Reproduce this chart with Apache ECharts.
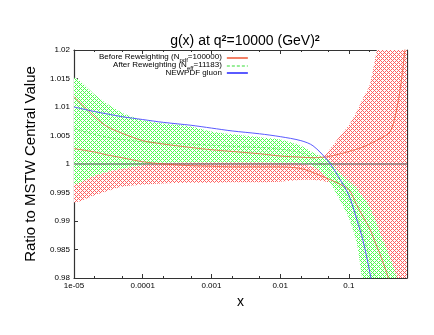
<!DOCTYPE html>
<html>
<head>
<meta charset="utf-8">
<script src="https://cdn.jsdelivr.net/npm/echarts@6/dist/echarts.min.js"></script>
<style>
html,body{margin:0;padding:0;background:#fff;}
#chart{width:434px;height:335px;}
</style>
</head>
<body>
<div id="chart"></div>
<script>
// x sample points (log axis)
var xs = [1e-5, 2e-5, 3e-5, 5e-5, 1e-4, 2e-4, 5e-4, 1e-3, 2e-3, 5e-3, 0.01, 0.02, 0.03, 0.05, 0.07, 0.1, 0.13, 0.16, 0.2, 0.25, 0.3, 0.4, 0.5, 0.6, 0.7];

// before reweighting band (red)
var redLow = [0.9933, 0.9945, 0.9952, 0.9960, 0.9964, 0.9966, 0.9967, 0.9967, 0.9968, 0.9968, 0.9969, 0.9972, 0.9972, 0.9968, 0.9955, 0.9935, 0.9910, 0.9885, 0.9860, 0.9835, 0.9815, 0.9812, 0.9795, 0.9770, 0.9740];
var redHigh = [0.9967, 0.9980, 0.9986, 0.9992, 0.9998, 1.0002, 1.0003, 1.0003, 1.0003, 1.0003, 1.0002, 1.0001, 0.9997, 1.0022, 1.0045, 1.0068, 1.0092, 1.0115, 1.0138, 1.0195, 1.0250, 1.0350, 1.0450, 1.0550, 1.0650];

// after reweighting band (green)
var greenLow = [0.9967, 0.9980, 0.9986, 0.9992, 0.9998, 1.0002, 1.0003, 1.0003, 1.0003, 1.0003, 1.0002, 1.0001, 0.9997, 0.9972, 0.9942, 0.9905, 0.9862, 0.9790, 0.9740, 0.9680, 0.9630, 0.9550, 0.9480, 0.9420, 0.9370];
var greenHigh = [1.0150, 1.0122, 1.0106, 1.0090, 1.0077, 1.0071, 1.0066, 1.0057, 1.0052, 1.0047, 1.0043, 1.0032, 1.0020, 1.0007, 0.9988, 0.9970, 0.9957, 0.9942, 0.9925, 0.9897, 0.9872, 0.9835, 0.9800, 0.9760, 0.9720];
var greenMid = [1.0062, 1.0052, 1.0047, 1.0043, 1.0039, 1.0037, 1.0035, 1.0033, 1.0031, 1.0029, 1.0026, 1.0020, 1.0010, 0.9990, 0.9965, 0.9938, 0.9910, 0.9875, 0.9838, 0.9790, 0.9750, 0.9680, 0.9620, 0.9560, 0.9500];

// thin red curves
var redCurveA = [1.0118, 1.0083, 1.0066, 1.0054, 1.0041, 1.0035, 1.0029, 1.0025, 1.0022, 1.0018, 1.0014, 1.0012, 1.0011, 1.0013, 1.0017, 1.0022, 1.0026, 1.0030, 1.0035, 1.0041, 1.0046, 1.0057, 1.0098, 1.0160, 1.0240];
var redCurveB = [1.0027, 1.0021, 1.0016, 1.0011, 1.0004, 1.0000, 0.9997, 0.9996, 0.9995, 0.9995, 0.9995, 0.9992, 0.9985, 0.9974, 0.9966, 0.9955, 0.9928, 0.9908, 0.9887, 0.9858, 0.9834, 0.9790, 0.9750, 0.9710, 0.9670];

// NEWPDF gluon (blue)
var newpdf = [1.0100, 1.0092, 1.0088, 1.0083, 1.0078, 1.0073, 1.0068, 1.0063, 1.0058, 1.0053, 1.0048, 1.0041, 1.0032, 1.0005, 0.9978, 0.9945, 0.9903, 0.9866, 0.9812, 0.9745, 0.9680, 0.9550, 0.9400, 0.9250, 0.9100];

var refX = [1e-5, 0.7];
var refY = [1, 1];

var minorTicks = [2e-5, 5e-5, 2e-4, 5e-4, 2e-3, 5e-3, 0.02, 0.05, 0.2, 0.5];

var nameBefore = 'before';
var nameAfter = 'after';
var nameNew = 'newpdf';

function pairs(a, b) {
	var out = [];
	for (var i = 0; i < a.length; i++) out.push([a[i], b[i]]);
	return out;
}

//交叉网格填充
function hatch(color) {
	var c = document.createElement('canvas');
	c.width = 4; c.height = 4;
	var ctx = c.getContext('2d');
	ctx.fillStyle = '#ffffff';
	ctx.fillRect(0, 0, 4, 4);
	ctx.fillStyle = color;
	for (var x = 0; x < 4; x++) {
		for (var y = 0; y < 4; y++) {
			if ((x + y) % 4 == 0 || (x - y + 4) % 4 == 0) ctx.fillRect(x, y, 1, 1);
		}
	}
	return {image: c, repeat: 'repeat'};
}

// 用多边形画误差带
function bandRender(lo, hi, fill) {
	return function(params, api) {
		var pts = [];
		for (var i = 0; i < xs.length; i++) pts.push(api.coord([xs[i], hi[i]]));
		for (var j = xs.length - 1; j >= 0; j--) pts.push(api.coord([xs[j], lo[j]]));
		var cs = params.coordSys;
		return {
			type: 'polygon',
			shape: {points: pts, smooth: 0.25},
			style: {fill: fill, stroke: null},
			clipPath: {type: 'rect', shape: {x: cs.x, y: cs.y, width: cs.width, height: cs.height}}
		};
	};
}

var font = 'Liberation Sans';
var axisColor = '#333';

function yFmt(v) { return String(parseFloat(v.toFixed(3))); }
function xFmt(v) {
	var l = Math.log(v) / Math.LN10;
	var e = Math.round(l);
	if (Math.abs(l - e) > 1e-6) return '';
	if (e == -5) return '1e-05';
	return String(parseFloat(Math.pow(10, e).toFixed(6)));
}

var chart = echarts.init(document.getElementById('chart'), null, {renderer: 'canvas'});

var option = {
	animation: false,
	backgroundColor: '#fff',
	title: {
		text: '{a|g(x) at q}{s|2}{a|=10000 (GeV)}{s|2}',
		left: 240,
		top: 29,
		textAlign: 'center',
		textStyle: {
			rich: {
				a: {fontFamily: font, fontSize: 14, color: '#000', fontWeight: 'normal', verticalAlign: 'bottom'},
				s: {fontFamily: font, fontSize: 9, color: '#000', verticalAlign: 'top'}
			}
		}
	},
	legend: {
		orient: 'vertical',
		align: 'right',
		left: 94,
		top: 48,
		itemWidth: 21,
		itemHeight: 6,
		itemGap: -2,
		itemStyle: {opacity: 0},
		data: [nameBefore, nameAfter, nameNew],
		formatter: function(n) {
			if (n == nameBefore) return '{a|Before Reweighting (N}{b|pdf}{a|=100000)}';
			if (n == nameAfter) return '{a|After Reweighting (N}{b|eff}{a|=11183)}';
			return '{a|NEWPDF gluon}';
		},
		textStyle: {
			rich: {
				a: {fontFamily: font, fontSize: 8, color: '#000', verticalAlign: 'top', lineHeight: 8},
				b: {fontFamily: font, fontSize: 6, color: '#000', verticalAlign: 'bottom', lineHeight: 10}
			}
		}
	},
	grid: {left: 74, right: 27, top: 50, bottom: 57, containLabel: false},
	xAxis: [{
		type: 'log', logBase: 10, min: 1e-5, max: 0.7, position: 'bottom',
		name: 'x', nameLocation: 'middle', nameGap: 16,
		nameTextStyle: {fontFamily: font, fontSize: 14, color: '#000'},
		axisLine: {show: true, lineStyle: {color: axisColor, width: 1.2}},
		axisTick: {inside: true, length: 4, lineStyle: {color: axisColor}},
		axisLabel: {fontFamily: font, fontSize: 8, color: '#000', margin: 4, formatter: xFmt, showMaxLabel: false},
		splitLine: {show: false}
	}, {
		type: 'log', logBase: 10, min: 1e-5, max: 0.7, position: 'top',
		axisLine: {show: true, lineStyle: {color: axisColor, width: 1.2}},
		axisTick: {inside: true, length: 4, lineStyle: {color: axisColor}},
		axisLabel: {show: false},
		splitLine: {show: false}
	}, {
		type: 'log', logBase: 10, min: 1e-5, max: 0.7, position: 'bottom',
		axisLine: {show: false},
		axisTick: {inside: true, length: 2, customValues: minorTicks, lineStyle: {color: axisColor}},
		axisLabel: {show: false},
		splitLine: {show: false}
	}, {
		type: 'log', logBase: 10, min: 1e-5, max: 0.7, position: 'top',
		axisLine: {show: false},
		axisTick: {inside: true, length: 2, customValues: minorTicks, lineStyle: {color: axisColor}},
		axisLabel: {show: false},
		splitLine: {show: false}
	}],
	yAxis: [{
		type: 'value', min: 0.98, max: 1.02, interval: 0.005, position: 'left',
		name: 'Ratio to MSTW Central Value', nameLocation: 'middle', nameGap: 36, nameRotate: 90,
		nameTextStyle: {fontFamily: font, fontSize: 15, color: '#000'},
		axisLine: {show: true, lineStyle: {color: axisColor, width: 1.2}},
		axisTick: {show: true, inside: true, length: 4, lineStyle: {color: axisColor}},
		axisLabel: {fontFamily: font, fontSize: 8, color: '#000', margin: 4, formatter: yFmt},
		splitLine: {show: false}
	}, {
		type: 'value', min: 0.98, max: 1.02, interval: 0.005, position: 'right',
		axisLine: {show: true, lineStyle: {color: axisColor, width: 1.2}},
		axisTick: {show: true, inside: true, length: 4, lineStyle: {color: axisColor}},
		axisLabel: {show: false},
		splitLine: {show: false}
	}],
	series: [
		{
			name: 'redBand', type: 'custom', coordinateSystem: 'cartesian2d',
			data: [[xs[0], redHigh[0]]], z: 1, silent: true,
			renderItem: bandRender(redLow, redHigh, hatch('#ff6060'))
		},
		{
			name: 'greenBand', type: 'custom', coordinateSystem: 'cartesian2d',
			data: [[xs[0], greenHigh[0]]], z: 2, silent: true,
			renderItem: bandRender(greenLow, greenHigh, hatch('#50ff50'))
		},
		{
			name: nameAfter, type: 'line', data: pairs(xs, greenMid),
			symbol: 'none', smooth: 0.3, z: 3,
			lineStyle: {color: '#33dd33', width: 1, type: [3, 2], opacity: 0.5}
		},
		{
			name: 'ref', type: 'line', data: pairs(refX, refY),
			symbol: 'none', z: 4, lineStyle: {color: '#555', width: 1}
		},
		{
			name: nameBefore, type: 'line', data: pairs(xs, redCurveA),
			symbol: 'none', smooth: 0.3, z: 5, lineStyle: {color: '#ee5533', width: 1, opacity: 0.75}
		},
		{
			name: nameBefore, type: 'line', data: pairs(xs, redCurveB),
			symbol: 'none', smooth: 0.3, z: 5, lineStyle: {color: '#ee5533', width: 1, opacity: 0.75}
		},
		{
			name: nameNew, type: 'line', data: pairs(xs, newpdf),
			symbol: 'none', smooth: 0.3, z: 6, lineStyle: {color: '#5a5aff', width: 1}
		}
	]
};

chart.setOption(option);
</script>
</body>
</html>
